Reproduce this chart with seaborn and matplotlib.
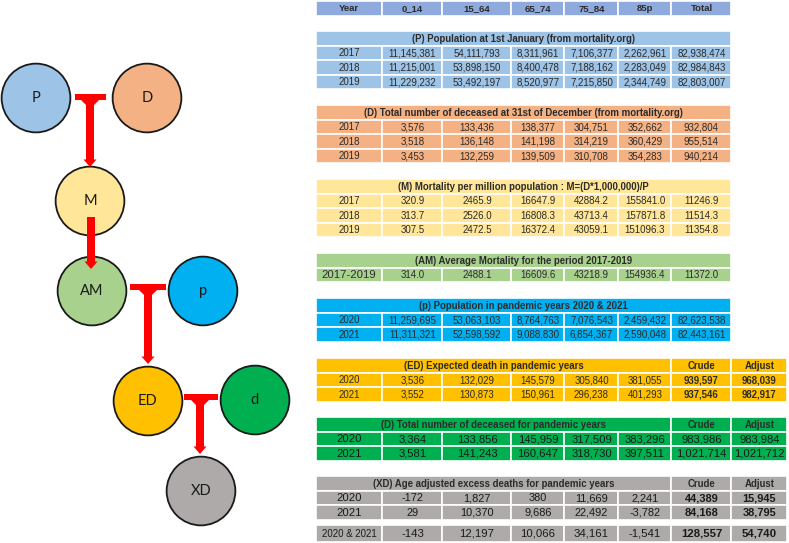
import matplotlib
matplotlib.use("Agg")
import matplotlib.pyplot as plt
from matplotlib.patches import Rectangle, Polygon
import seaborn as sns
import pandas as pd

# ---- data ----
header = ["Year", "0_14", "15_64", "65_74", "75_84", "85p", "Total"]
years_hist = ["2017", "2018", "2019"]
years_pand = ["2020", "2021"]

pop_hist = [
    [11145381, 54111793, 8311961, 7106377, 2262961, 82938474],
    [11215001, 53898150, 8400478, 7188162, 2283049, 82984843],
    [11229232, 53492197, 8520977, 7215850, 2344749, 82803007],
]
deaths_hist = [
    [3576, 133436, 138377, 304751, 352662, 932804],
    [3518, 136148, 141198, 314219, 360429, 955514],
    [3453, 132259, 139509, 310708, 354283, 940214],
]
mortality = [
    [320.9, 2465.9, 16647.9, 42884.2, 155841.0, 11246.9],
    [313.7, 2526.0, 16808.3, 43713.4, 157871.8, 11514.3],
    [307.5, 2472.5, 16372.4, 43059.1, 151096.3, 11354.8],
]
avg_mortality = [314.0, 2488.1, 16609.6, 43218.9, 154936.4, 11372.0]
pop_pand = [
    [11259695, 53063103, 8764763, 7076543, 2459432, 82623538],
    [11311321, 52598592, 9088830, 6854367, 2590048, 82443161],
]
expected = [
    [3536, 132029, 145579, 305840, 381055, 939597, 968039],
    [3552, 130873, 150961, 296238, 401293, 937546, 982917],
]
deaths_pand = [
    [3364, 133856, 145959, 317509, 383296, 983986, 983984],
    [3581, 141243, 160647, 318730, 397511, 1021714, 1021712],
]
excess = [
    [-172, 1827, 380, 11669, 2241, 44389, 15945],
    [29, 10370, 9686, 22492, -3782, 84168, 38795],
]
excess_total = [-143, 12197, 10066, 34161, -1541, 128557, 54740]

titles = [
    "(P) Population at 1st January (from mortality.org)",
    "(D) Total number of deceased at 31st of December (from mortality.org)",
    "(M) Mortality per million population : M=(D*1,000,000)/P",
    "(AM) Average Mortality for the period 2017-2019",
    "(p) Population in pandemic years 2020 & 2021",
    "(ED) Expected death in pandemic years",
    "(D) Total number of deceased for pandemic years",
    "(XD) Age adjusted excess deaths for pandemic years",
]

node_labels = ["P", "D", "M", "AM", "p", "ED", "d", "XD"]

# ---- layout / style ----
node_x = [36, 147, 90, 92, 203, 148, 255, 201]
node_y = [98, 98, 201, 291, 291, 401, 400, 491]
node_colors = ["#9DC3E6", "#F4B183", "#FFE699", "#A9D18E",
               "#00B0F0", "#FFC000", "#00B050", "#AEAAAA"]

col_edges = [316, 382.5, 442.5, 511.5, 564.5, 618.5, 671.5, 731.5, 787]
row_h = 14.6
block_tops = [31, 105, 179, 253, 298, 358, 417, 476]
block_colors = ["#9DC3E6", "#F4B183", "#FFE699", "#A9D18E",
                "#00B0F0", "#FFC000", "#00B050", "#AEAAAA"]
header_color = "#8FAADC"
red = "#FF0000"
txt = "#2b2b2b"

sns.set_style("white")
plt.rcParams["font.family"] = ["Liberation Sans", "DejaVu Sans"]

fig = plt.figure(figsize=(7.89, 5.43), dpi=100)
ax = fig.add_axes([0, 0, 1, 1])
ax.set_xlim(0, 789)
ax.set_ylim(543, 0)
ax.axis("off")


def cell(c0, c1, top, h, color, text="", size=7, bold=False, color_t=txt):
    x0, x1 = col_edges[c0], col_edges[c1]
    ax.add_patch(Rectangle((x0, top), x1 - x0, h, facecolor=color,
                           edgecolor="white", linewidth=1.2))
    if text:
        ax.text((x0 + x1) / 2, top + h / 2 + 0.3, text, ha="center", va="center",
                fontsize=size, fontweight="bold" if bold else "normal", color=color_t)


def fmt_int(v):
    return f"{v:,}"


def fmt_dec(v):
    return f"{v:.1f}"


# header row
for i, h in enumerate(header):
    cell(i, i + 1, 1, row_h, header_color, h, size=6.8, bold=True)

# simple 7-column blocks
simple = [
    (titles[0], years_hist, pop_hist, fmt_int, 7, None),
    (titles[1], years_hist, deaths_hist, fmt_int, 7, None),
    (titles[2], years_hist, mortality, fmt_dec, 7, None),
    (titles[3], ["2017-2019"], [avg_mortality], fmt_dec, 7, 8.2),
    (titles[4], years_pand, pop_pand, fmt_int, 7, None),
]
for b, (title, yrs, vals, f, fs, yfs) in enumerate(simple):
    top = block_tops[b]
    col = block_colors[b]
    cell(0, 7, top, row_h, col, title, size=6.9, bold=True)
    for r, (yr, row) in enumerate(zip(yrs, vals)):
        y = top + row_h * (r + 1)
        cell(0, 1, y, row_h, col, yr, size=yfs or fs)
        for c, v in enumerate(row):
            cell(c + 1, c + 2, y, row_h, col, f(v), size=fs)

# 8-column blocks with Crude / Adjust
wide = [
    (titles[5], expected, 6.9, 6.9, "#2b2b2b"),
    (titles[6], deaths_pand, 8.1, 8.1, "#1a1a1a"),
    (titles[7], excess, 7.9, 8.2, "#1a1a1a"),
]
for k, (title, vals, fs, yfs, tc) in enumerate(wide):
    b = 5 + k
    top = block_tops[b]
    col = block_colors[b]
    cell(0, 6, top, row_h, col, title, size=6.9, bold=True)
    cell(6, 7, top, row_h, col, "Crude", size=6.9, bold=True)
    cell(7, 8, top, row_h, col, "Adjust", size=6.9, bold=True)
    for r, (yr, row) in enumerate(zip(years_pand, vals)):
        y = top + row_h * (r + 1)
        cell(0, 1, y, row_h, col, yr, size=yfs, color_t=tc)
        for c, v in enumerate(row):
            bold = (c >= 5) and b != 6
            cell(c + 1, c + 2, y, row_h, col, fmt_int(v), size=fs, bold=bold, color_t=tc)

# total excess row
y_tot = block_tops[7] + row_h * 3 + 5
h_tot = 17
cell(0, 1, y_tot, h_tot, block_colors[7], "2020 & 2021", size=6.9, color_t="#1a1a1a")
for c, v in enumerate(excess_total):
    cell(c + 1, c + 2, y_tot, h_tot, block_colors[7], fmt_int(v), size=8.2,
         bold=c >= 5, color_t="#1a1a1a")


# ---- flow diagram ----
def stem(xs, y0, ytip):
    ax.add_patch(Rectangle((xs - 4, y0), 8, ytip - 7 - y0, facecolor=red,
                           edgecolor="none", zorder=3))
    ax.add_patch(Polygon([(xs - 6.5, ytip - 7.5), (xs + 6.5, ytip - 7.5), (xs, ytip)],
                         closed=True, facecolor=red, edgecolor="none", zorder=3))


def tee(x1, x2, y, xs, ytip):
    ax.add_patch(Rectangle((x1, y - 3), x2 - x1, 6, facecolor=red,
                           edgecolor="none", zorder=3))
    # small fillets at the joint
    ax.add_patch(Polygon([(xs - 9, y + 3), (xs + 9, y + 3), (xs + 4, y + 8), (xs - 4, y + 8)],
                         closed=True, facecolor=red, edgecolor="none", zorder=3))
    stem(xs, y, ytip)


tee(75, 106, 97, 90, 167)
stem(91, 217, 269)
tee(130, 166, 287, 148, 364)
tee(184, 218, 397, 200, 454)

nodes = pd.DataFrame({"label": node_labels, "x": node_x, "y": node_y})
sns.scatterplot(data=nodes, x="x", y="y", hue="label",
                palette=dict(zip(node_labels, node_colors)), s=2450,
                edgecolor="#1a1a1a", linewidth=1.3, legend=False, ax=ax, zorder=2)
for lab, x, y in zip(node_labels, node_x, node_y):
    ax.text(x, y, lab, ha="center", va="center", fontsize=10.5,
            family=["Lato", "DejaVu Sans"], color="#1a1a1a", zorder=4)

ax.set_xlim(0, 789)
ax.set_ylim(543, 0)
ax.axis("off")

fig.savefig("out.png", dpi=100)
